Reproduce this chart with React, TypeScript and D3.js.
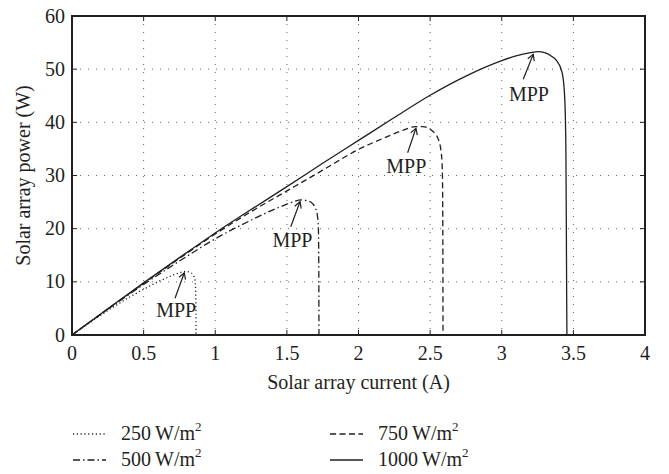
import React from 'react';
import * as d3 from 'd3';

// Current (A) and power (W) for each irradiance level
const current250 = [0, 0.1, 0.25, 0.4, 0.5, 0.6, 0.7, 0.75, 0.79, 0.82, 0.845, 0.858, 0.863, 0.865, 0.866];
const power250 = [0, 1.9, 4.6, 7.1, 8.6, 10.0, 11.2, 11.7, 11.95, 11.85, 11.3, 10.4, 8.5, 5.0, 0];

const current500 = [0, 0.25, 0.5, 0.75, 1.0, 1.25, 1.4, 1.5, 1.55, 1.6, 1.65, 1.68, 1.7, 1.713, 1.72, 1.723, 1.724];
const power500 = [0, 4.85, 9.5, 13.9, 18.1, 21.6, 23.5, 24.6, 25.1, 25.4, 25.2, 24.7, 23.8, 22.5, 20.0, 12.0, 0];

const current750 = [0, 0.25, 0.5, 0.75, 1.0, 1.25, 1.5, 1.75, 2.0, 2.2, 2.3, 2.4, 2.45, 2.5, 2.53, 2.56, 2.575, 2.583, 2.587, 2.589, 2.59];
const power750 = [0, 4.9, 9.7, 14.4, 19.0, 23.2, 27.1, 31.0, 34.9, 37.3, 38.4, 39.2, 39.2, 38.7, 38.0, 36.6, 34.8, 32.5, 28.0, 15.0, 0];

const current1000 = [0, 0.25, 0.5, 0.75, 1.0, 1.25, 1.5, 1.75, 2.0, 2.25, 2.5, 2.75, 3.0, 3.1, 3.2, 3.25, 3.3, 3.35, 3.38, 3.42, 3.435, 3.443, 3.448, 3.451, 3.453, 3.455];
const power1000 = [0, 4.93, 9.8, 14.55, 19.2, 23.6, 27.9, 32.3, 36.6, 40.9, 45.1, 48.7, 51.6, 52.5, 53.1, 53.3, 53.1, 52.4, 51.7, 49.5, 46.5, 42.0, 34.0, 20.0, 8.0, 0];

const seriesLabels = ['250', '500', '750', '1000'];

const xTicks = [0, 0.5, 1, 1.5, 2, 2.5, 3, 3.5, 4];
const xTickLabels = ['0', '0.5', '1', '1.5', '2', '2.5', '3', '3.5', '4'];
const yTicks = [0, 10, 20, 30, 40, 50, 60];
const yTickLabels = ['0', '10', '20', '30', '40', '50', '60'];

// MPP annotations (data coordinates): arrow tip, arrow tail, text anchor
const mppTipI = [0.784, 1.592, 2.401, 3.22];
const mppTipP = [11.7, 25.07, 38.88, 52.79];
const mppTailI = [0.719, 1.527, 2.343, 3.15];
const mppTailP = [6.9, 20.37, 34.29, 48.09];
const mppTextI = [0.727, 1.539, 2.334, 3.19];
const mppTextP = [3.44, 16.6, 30.41, 44.0];

const W = 669;
const H = 474;
const left = 72;
const right = 645;
const top = 16;
const bottom = 335;
const ink = '#231f20';
const font = "'Liberation Serif', 'DejaVu Serif', serif";
const txt: React.CSSProperties = { fontFamily: font, fontSize: 20 };

export default function App() {
  const x = d3.scaleLinear().domain([0, 4]).range([left, right]);
  const y = d3.scaleLinear().domain([0, 60]).range([bottom, top]);

  const series = [
    { I: current250, P: power250, dash: '1.2,2.6' },
    { I: current500, P: power500, dash: '7,3,1.5,3' },
    { I: current750, P: power750, dash: '6,3.5' },
    { I: current1000, P: power1000, dash: 'none' },
  ];

  const line = d3
    .line<[number, number]>()
    .x((d) => x(d[0]))
    .y((d) => y(d[1]))
    .curve(d3.curveMonotoneX);

  const legendPos = [
    { lx: 73, ty: 440 },
    { lx: 73, ty: 466 },
    { lx: 330, ty: 440 },
    { lx: 330, ty: 466 },
  ];

  return (
    <svg
      width={W}
      height={H}
      style={{ position: 'absolute', left: 0, top: 0, background: '#fff' }}
    >
      <rect x={0} y={0} width={W} height={H} fill="#fff" />
      {/* grid */}
      {xTicks.slice(1, -1).map((t) => (
        <line key={'gx' + t} x1={x(t)} x2={x(t)} y1={top} y2={bottom} stroke="#666" strokeWidth={1} strokeDasharray="1,7" />
      ))}
      {yTicks.slice(1, -1).map((t) => (
        <line key={'gy' + t} x1={left} x2={right} y1={y(t)} y2={y(t)} stroke="#666" strokeWidth={1} strokeDasharray="1,7" />
      ))}
      {/* ticks (inward, all sides) */}
      {xTicks.map((t) => (
        <g key={'tx' + t}>
          <line x1={x(t)} x2={x(t)} y1={bottom} y2={bottom - 5} stroke={ink} strokeWidth={1} />
          <line x1={x(t)} x2={x(t)} y1={top} y2={top + 5} stroke={ink} strokeWidth={1} />
        </g>
      ))}
      {yTicks.map((t) => (
        <g key={'ty' + t}>
          <line x1={left} x2={left + 5} y1={y(t)} y2={y(t)} stroke={ink} strokeWidth={1} />
          <line x1={right} x2={right - 5} y1={y(t)} y2={y(t)} stroke={ink} strokeWidth={1} />
        </g>
      ))}
      {/* curves */}
      {series.map((s, i) => (
        <path
          key={'s' + i}
          d={line(s.I.map((v, j) => [v, s.P[j]] as [number, number])) || ''}
          fill="none"
          stroke={ink}
          strokeWidth={1.3}
          strokeDasharray={s.dash}
        />
      ))}
      {/* frame */}
      <rect x={left} y={top} width={right - left} height={bottom - top} fill="none" stroke={ink} strokeWidth={2} />
      {/* tick labels */}
      {xTicks.map((t, i) => (
        <text key={'xl' + t} x={x(t)} y={360} textAnchor="middle" style={txt} fill={ink}>
          {xTickLabels[i]}
        </text>
      ))}
      {yTicks.map((t, i) => (
        <text key={'yl' + t} x={65} y={y(t) + 6.5} textAnchor="end" style={txt} fill={ink}>
          {yTickLabels[i]}
        </text>
      ))}
      {/* axis labels */}
      <text x={(left + right) / 2} y={389} textAnchor="middle" style={txt} fill={ink}>
        Solar array current (A)
      </text>
      <text transform={`translate(30,${(top + bottom) / 2}) rotate(-90)`} textAnchor="middle" style={txt} fill={ink}>
        Solar array power (W)
      </text>
      {/* MPP annotations */}
      {mppTipI.map((ti, i) => {
        const x1 = x(mppTailI[i]);
        const y1 = y(mppTailP[i]);
        const x2 = x(ti);
        const y2 = y(mppTipP[i]);
        const ang = Math.atan2(y2 - y1, x2 - x1);
        const a = 7;
        const spread = Math.PI / 6;
        const ax1 = x2 - a * Math.cos(ang - spread);
        const ay1 = y2 - a * Math.sin(ang - spread);
        const ax2 = x2 - a * Math.cos(ang + spread);
        const ay2 = y2 - a * Math.sin(ang + spread);
        return (
          <g key={'m' + i}>
            <line x1={x1} y1={y1} x2={x2} y2={y2} stroke={ink} strokeWidth={1.2} />
            <path d={`M${ax1},${ay1}L${x2},${y2}L${ax2},${ay2}`} fill="none" stroke={ink} strokeWidth={1.2} />
            <text x={x(mppTextI[i])} y={y(mppTextP[i])} textAnchor="middle" style={txt} fill={ink}>
              MPP
            </text>
          </g>
        );
      })}
      {/* legend */}
      {series.map((s, i) => {
        const p = legendPos[i];
        return (
          <g key={'lg' + i}>
            <line x1={p.lx} x2={p.lx + 33} y1={p.ty - 6} y2={p.ty - 6} stroke={ink} strokeWidth={1.3} strokeDasharray={s.dash} />
            <text x={p.lx + 48} y={p.ty} style={txt} fill={ink}>
              {seriesLabels[i]}
              <tspan dx={4}>W/m</tspan>
              <tspan dy={-9} style={{ fontSize: 13 }}>2</tspan>
            </text>
          </g>
        );
      })}
    </svg>
  );
}
